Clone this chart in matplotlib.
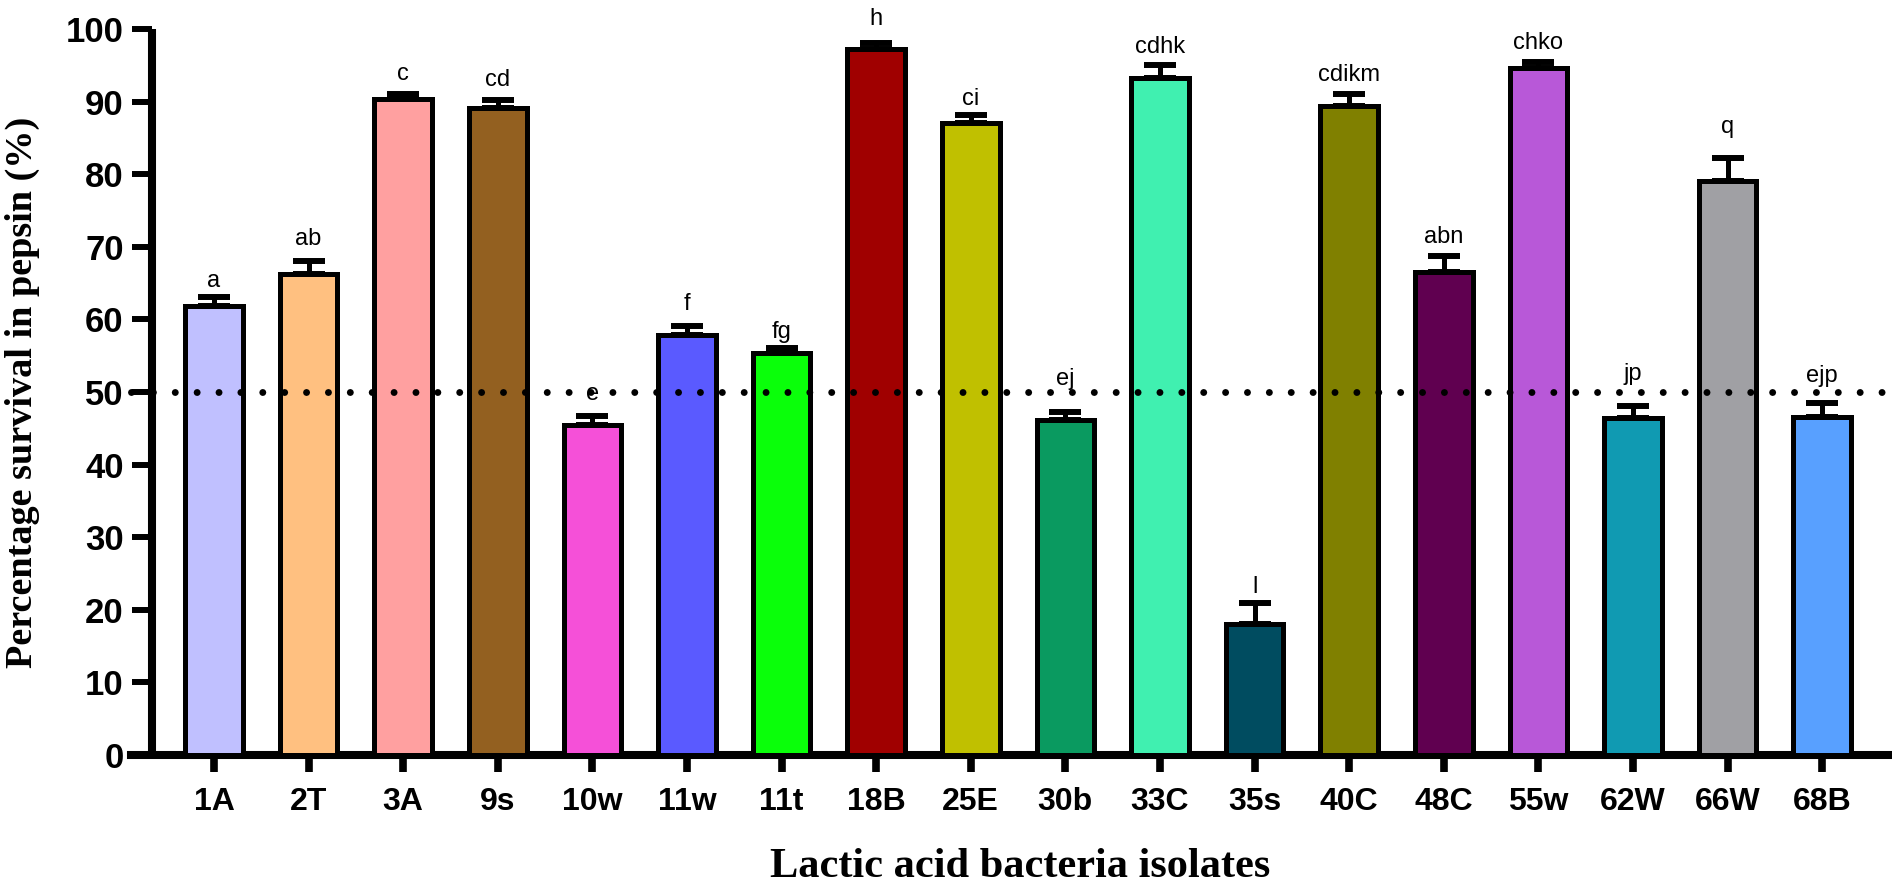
import matplotlib
matplotlib.use("Agg")
import matplotlib.pyplot as plt
import numpy as np

# ---- data ----
isolates = ["1A", "2T", "3A", "9s", "10w", "11w", "11t", "18B", "25E",
            "30b", "33C", "35s", "40C", "48C", "55w", "62W", "66W", "68B"]
survival = [61.8, 66.2, 90.4, 89.1, 45.5, 57.9, 55.4, 97.2, 87.0,
            46.1, 93.3, 18.0, 89.4, 66.5, 94.6, 46.4, 79.0, 46.5]
sem = [1.3, 1.8, 0.7, 1.1, 1.2, 1.2, 0.7, 0.9, 1.2,
       1.2, 1.7, 2.9, 1.6, 2.3, 0.8, 1.7, 3.3, 2.0]
letters = ["a", "ab", "c", "cd", "e", "f", "fg", "h", "ci",
           "ej", "cdhk", "l", "cdikm", "abn", "chko", "jp", "q", "ejp"]
threshold = 50

# ---- styles ----
colors = ["#C0C0FF", "#FFC080", "#FFA0A0", "#936020", "#F550D8", "#5A5AFF",
          "#0AFF0A", "#A00000", "#C0C000", "#0A9A60", "#40F0B0", "#004C60",
          "#808000", "#600050", "#B858D8", "#109AB2", "#A0A0A4", "#58A0FF"]
letter_gap_px = [10, 16, 14, 14, 16, 16, 10, 18, 10,
                 27, 12, 10, 13, 13, 13, 26, 25, 21]

W, H, DPI = 1892, 892, 100
fig = plt.figure(figsize=(W / DPI, H / DPI), dpi=DPI)

ax_left, ax_right = 131, 1892
ax_top, ax_bottom = 29, 755
ax = fig.add_axes([ax_left / W, 1 - ax_bottom / H,
                   (ax_right - ax_left) / W, (ax_bottom - ax_top) / H])

x = np.arange(len(isolates))
px_per_unit = 94.6
xmin = -(214 - ax_left) / px_per_unit
xmax = xmin + (ax_right - ax_left) / px_per_unit
ax.set_xlim(xmin, xmax)
ax.set_ylim(0, 100)

ax.bar(x, survival, width=0.61, color=colors, edgecolor="black",
       linewidth=3.6, zorder=3)
ax.errorbar(x, survival, yerr=[np.zeros(len(sem)), sem], fmt="none",
            ecolor="black", elinewidth=3.6, capsize=11.5, capthick=4.3,
            zorder=2)

# threshold dotted line
ax.axhline(threshold, color="black", linewidth=5.0,
           linestyle=(0, (0.001, 3.15)), dash_capstyle="round",
           zorder=5, clip_on=False)

# significance letters
for xi, v, e, lab, g in zip(x, survival, sem, letters, letter_gap_px):
    ax.annotate(lab, xy=(xi, v + e), xytext=(0, g * 72 / DPI),
                textcoords="offset points", ha="center", va="baseline",
                fontsize=17, family="Liberation Sans", zorder=6)

# spines
for s in ["top", "right"]:
    ax.spines[s].set_visible(False)
ax.spines["left"].set_position(("axes", (152 - ax_left) / (ax_right - ax_left)))
ax.spines["left"].set_linewidth(5.8)
ax.spines["bottom"].set_linewidth(5.8)
ax.spines["left"].set_capstyle("butt")

ax.set_yticks(np.arange(0, 101, 10))
ax.set_xticks(x)
ax.set_xticklabels(isolates)
ax.tick_params(axis="y", length=14.4, width=4.3, pad=6,
               labelsize=25)
ax.tick_params(axis="x", length=12, width=5.5, pad=11,
               labelsize=23)
for lab in ax.get_yticklabels() + ax.get_xticklabels():
    lab.set_fontfamily("Liberation Sans")
    lab.set_fontweight("bold")

ax.set_ylabel("Percentage survival in pepsin (%)", fontsize=27.5,
              fontweight="bold", family="Liberation Serif")
ax.yaxis.set_label_coords(22 / W, 1 - 392 / H, transform=fig.transFigure)
ax.set_xlabel("Lactic acid bacteria isolates", fontsize=30.5,
              fontweight="bold", family="Liberation Serif")
ax.xaxis.set_label_coords(1020 / W, 1 - 867 / H, transform=fig.transFigure)
ax.xaxis.label.set_va("center")
ax.yaxis.label.set_va("center")

fig.savefig("out.png", dpi=DPI)
